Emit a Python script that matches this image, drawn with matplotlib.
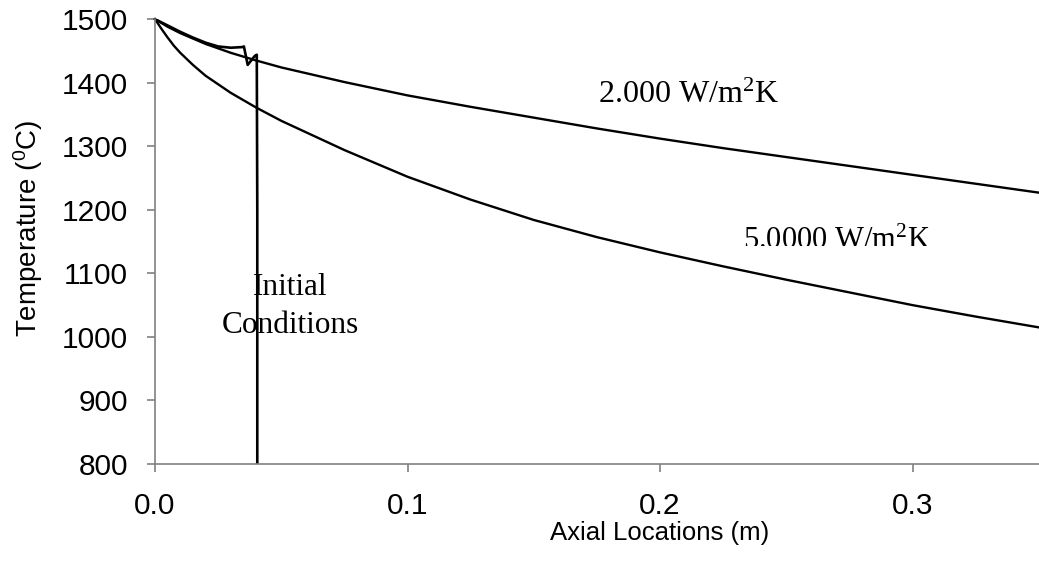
import matplotlib
matplotlib.use("Agg")
import matplotlib.pyplot as plt
from matplotlib.patches import Rectangle

plt.rcParams['font.family'] = ['Liberation Sans', 'DejaVu Sans']
plt.rcParams['mathtext.fontset'] = 'custom'
plt.rcParams['mathtext.rm'] = 'Liberation Serif'
plt.rcParams['mathtext.sf'] = 'Liberation Sans'
plt.rcParams['mathtext.default'] = 'rm'

# 2,000 W/m2K curve
x_h2000 = [0.0, 0.005, 0.01, 0.02, 0.03, 0.04, 0.05, 0.075, 0.1, 0.125, 0.15, 0.175,
           0.2, 0.225, 0.25, 0.275, 0.3, 0.325, 0.35]
t_h2000 = [1500, 1488, 1478, 1461, 1447, 1435, 1424, 1401, 1380, 1362, 1345, 1328,
           1312, 1297, 1283, 1269, 1255, 1241, 1227]

# 5,0000 W/m2K curve
x_h5000 = [0.0, 0.0025, 0.005, 0.0075, 0.01, 0.015, 0.02, 0.03, 0.04, 0.05, 0.075, 0.1,
           0.125, 0.15, 0.175, 0.2, 0.225, 0.25, 0.275, 0.3, 0.325, 0.35]
t_h5000 = [1500, 1485, 1471, 1458, 1447, 1428, 1411, 1384, 1361, 1340, 1294, 1252,
           1216, 1184, 1157, 1133, 1111, 1090, 1070, 1050, 1032, 1015]

# Initial conditions
x_init = [0.0, 0.005, 0.01, 0.015, 0.02, 0.025, 0.03, 0.0345, 0.0352, 0.0367, 0.0395, 0.0403, 0.0405, 0.0405]
t_init = [1500, 1490, 1480, 1471, 1463, 1457, 1455, 1456, 1457, 1428, 1442, 1444, 1200, 780]

x_ticks = [0.0, 0.1, 0.2, 0.3]
x_ticklabels = ['0.0', '0.1', '0.2', '0.3']
y_ticks = [800, 900, 1000, 1100, 1200, 1300, 1400, 1500]

fig = plt.figure(figsize=(10.39, 5.66), dpi=100)
# plot area continues past the right edge of the picture (axis runs to 0.4)
ax = fig.add_axes([0.1492, 0.1802, 1010 / 1039, 0.786])

ax.plot(x_h2000, t_h2000, color='black', lw=1.7, clip_on=False)
ax.plot(x_h5000, t_h5000, color='black', lw=1.7, clip_on=False)
ax.plot(x_init, t_init, color='black', lw=1.9)

ax.set_xlim(0, 0.4)
ax.set_ylim(800, 1500)
ax.set_xticks(x_ticks)
ax.set_xticklabels(x_ticklabels)
ax.set_yticks(y_ticks)

for s in ['top', 'right']:
    ax.spines[s].set_visible(False)
for s in ['left', 'bottom']:
    ax.spines[s].set_color('#808080')
    ax.spines[s].set_linewidth(1.2)

ax.tick_params(axis='both', direction='out', length=6, width=1.2, color='#808080', labelsize=21.5)
ax.tick_params(axis='x', pad=14)
ax.tick_params(axis='y', pad=13.5)

ax.set_xlabel('Axial Locations (m)', fontsize=18.5)
ax.xaxis.set_label_coords(0.5, -0.128)
ax.set_ylabel(r'Temperature ($\mathsf{^{0}}$C)', fontsize=20)
ax.yaxis.set_label_coords(-0.109, 0.53)

ax.text(0.1754, 1368, r'2.000 W/m$^{2}$K', fontsize=23, family='Liberation Serif',
        ha='left', va='baseline')
t5 = ax.text(0.233, 1138, r'5.0000 W/m$^{2}$K', fontsize=22, family='Liberation Serif',
             ha='left', va='baseline')
clip_rect = Rectangle((0.2, 1143), 0.2, 300, transform=ax.transData, visible=False)
ax.add_patch(clip_rect)
t5.set_clip_path(clip_rect)
t5.set_clip_on(True)

ax.text(0.0535, 1066, 'Initial', fontsize=22.5, family='Liberation Serif', ha='center', va='baseline')
ax.text(0.0535, 1006, 'Conditions', fontsize=22.5, family='Liberation Serif', ha='center', va='baseline')

fig.savefig('out.png', dpi=100)
